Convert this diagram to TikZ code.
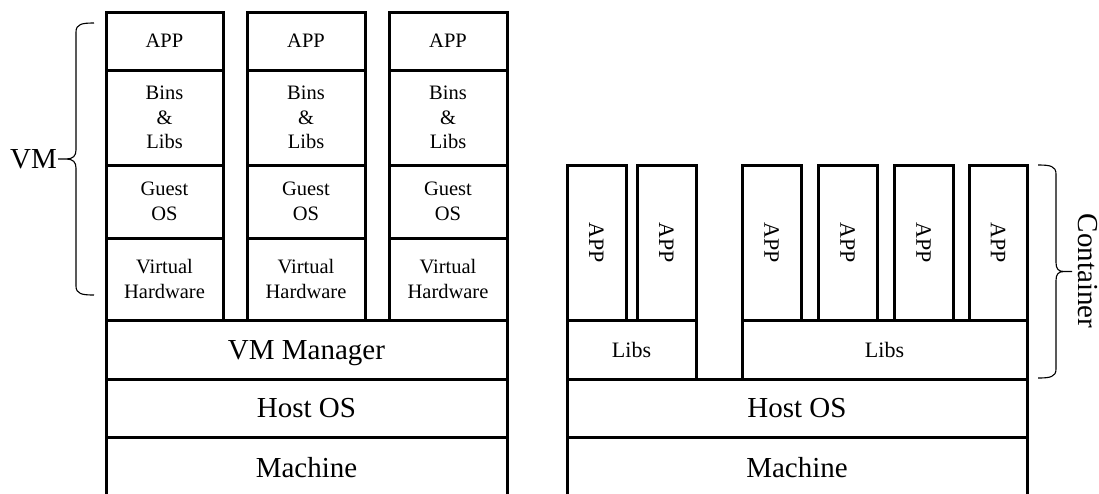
\documentclass[tikz,border=0pt]{standalone}
\usepackage{fontspec}
\setmainfont{Liberation Serif}
\tikzset{
  box/.style={draw, line width=3pt, inner sep=0pt, outer sep=0pt, align=center},
  big/.style={font=\fontsize{29}{34}\selectfont, text height=19pt, text depth=0pt},
  small/.style={font=\fontsize{20.5}{24.5}\selectfont},
  csmall/.style={font=\fontsize{22}{26}\selectfont},
  bracestyle/.style={line width=1.1pt, line join=round},
}
\begin{document}
\begin{tikzpicture}[x=1pt,y=-1pt]
\useasboundingbox (0,0) rectangle (1099,493);
% VM stacks
\foreach \i/\cx/\w in {1/164.5/117, 2/306/118, 3/448/118}{
  \node[box, small, minimum width=\w pt, minimum height=58pt] (app\i) at (\cx,41) {APP};
  \node[box, small, minimum width=\w pt, minimum height=95pt] (bins\i) at (\cx,117.5) {Bins\\\&\\Libs};
  \node[box, small, minimum width=\w pt, minimum height=73pt] (guest\i) at (\cx,201.5) {Guest\\OS};
  \node[box, small, minimum width=\w pt, minimum height=82pt] (vh\i) at (\cx,279) {Virtual\\Hardware};
}
\node[box, big, minimum width=401pt, minimum height=59pt] (vmm) at (306.5,349.5) {VM Manager};
\node[box, big, minimum width=401pt, minimum height=58pt] (hostL) at (306.5,408) {Host OS};
\node[box, big, minimum width=401pt, minimum height=62pt] (machL) at (306.5,468) {Machine};
% Container side
\node[box, big, minimum width=460pt, minimum height=58pt] (hostR) at (797,408) {Host OS};
\node[box, big, minimum width=460pt, minimum height=62pt] (machR) at (797,468) {Machine};
\node[box, csmall, minimum width=129pt, minimum height=59pt] (libs1) at (631.5,349.5) {Libs};
\node[box, csmall, minimum width=285pt, minimum height=59pt] (libs2) at (884.5,349.5) {Libs};
\foreach \j/\cx/\w in {1/596.5/59, 2/666.5/59, 3/771.5/59, 4/847.5/59, 5/923.5/59, 6/998/58}{
  \node[box, minimum width=\w pt, minimum height=155pt] (capp\j) at (\cx,242.5) {};
  \node[csmall, rotate=-90, inner sep=0pt] (capptext\j) at (capp\j.center) {APP};
}
% VM brace
\coordinate (vmtop) at (94,23);
\coordinate (vmbot) at (94,295);
\coordinate (vmtip) at (58,159);
\draw[bracestyle] (vmtop) .. controls (82,23) and (76,24) .. (76,32)
  -- (76,150) .. controls (76,156) and (73,159) .. (66,159) -- (vmtip)
  (66,159) .. controls (73,159) and (76,162) .. (76,168)
  -- (76,286) .. controls (76,294) and (82,295) .. (vmbot);
\node[big, anchor=east, inner sep=1pt] (vmlabel) at (vmtip) {VM};
% Container brace
\coordinate (ctop) at (1038,165);
\coordinate (cbot) at (1038,378);
\coordinate (ctip) at (1072,271.5);
\draw[bracestyle] (ctop) .. controls (1050,165) and (1056,166) .. (1056,174)
  -- (1056,262.5) .. controls (1056,268.5) and (1058,271.5) .. (1064,271.5) -- (ctip)
  (1064,271.5) .. controls (1058,271.5) and (1056,274.5) .. (1056,280.5)
  -- (1056,369) .. controls (1056,377) and (1050,378) .. (cbot);
\node[big, rotate=-90, inner sep=0pt] (clabel) at (1087.5,271) {Container};
\end{tikzpicture}
\end{document}
